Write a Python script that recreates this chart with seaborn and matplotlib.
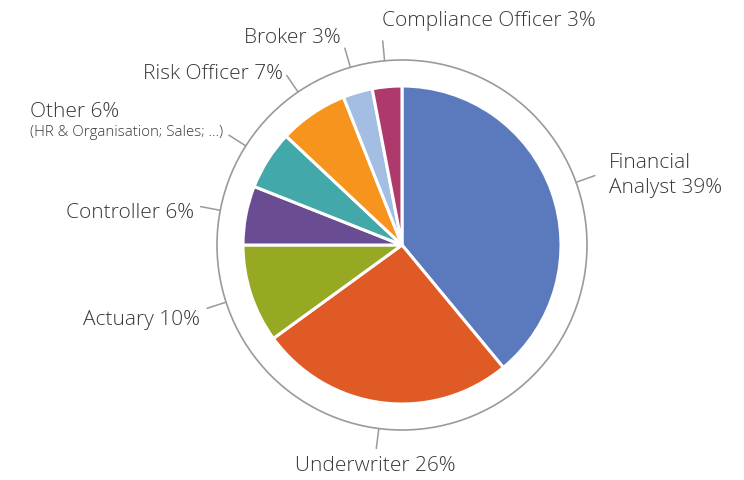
import numpy as np
import matplotlib
matplotlib.use('Agg')
import matplotlib.pyplot as plt
import seaborn as sns

sns.set_theme(style='white')
plt.rcParams['font.family'] = ['Open Sans', 'DejaVu Sans']

# data (clockwise from 12 o'clock)
roles = ['Financial\nAnalyst', 'Underwriter', 'Actuary', 'Controller',
         'Other', 'Risk Officer', 'Broker', 'Compliance Officer']
shares = [39, 26, 10, 6, 6, 7, 3, 3]
colors = ['#5b79bd', '#e05a26', '#97a823', '#6a4c93',
          '#42a8aa', '#f7941d', '#a4bde3', '#ae3a6b']
other_note = '(HR & Organisation; Sales; ...)'

# label layout: radius (px), extra y shift (px), ha, va
layout = [(220, -4, 'left', 'center'), (210, -2, 'center', 'top'),
          (212, -8, 'right', 'center'), (212, -7, 'right', 'center'),
          (212, 0, 'right', 'center'), (212, -3, 'right', 'center'),
          (220, -3, 'right', 'center'), (216, 0, 'left', 'bottom')]

W, H = 744, 481
cx, cy = 402, H - 246
r_pie, r_ring, r_tick = 159, 185, 205
txt_color = '#383838'

fig = plt.figure(figsize=(W / 100, H / 100), dpi=100)
ax = fig.add_axes([0, 0, 1, 1])

ax.pie(shares, colors=colors, startangle=90, counterclock=False,
       radius=r_pie, center=(cx, cy), frame=True,
       wedgeprops=dict(edgecolor='white', linewidth=2.2))
ax.set_xlim(0, W)
ax.set_ylim(0, H)
ax.set_aspect('equal')
ax.axis('off')

ax.add_patch(plt.Circle((cx, cy), r_ring, fill=False,
                        edgecolor='#9a9a9a', linewidth=1.2))

start = 90.0
for role, s, (rl, dy, ha, va) in zip(roles, shares, layout):
    span = s / sum(shares) * 360
    mid = np.deg2rad(start - span / 2)
    start -= span
    c, sn = np.cos(mid), np.sin(mid)
    ax.plot([cx + r_ring * c, cx + r_tick * c], [cy + r_ring * sn, cy + r_tick * sn],
            color='#9a9a9a', linewidth=1.1)
    tx, ty = cx + rl * c, cy + rl * sn + dy
    if role == 'Other':
        sub = ax.text(tx, ty, other_note, ha=ha, va=va, fontsize=10.8,
                      color=txt_color, fontweight='light')
        ax.annotate(f'{role} {s}%', xy=(0, 1), xycoords=sub, xytext=(0, 2),
                    textcoords='offset points', ha='left', va='bottom',
                    fontsize=15, color=txt_color, fontweight='light')
    else:
        ax.text(tx, ty, f'{role} {s}%', ha=ha, va=va, fontsize=15,
                color=txt_color, linespacing=1.35, fontweight='light')

fig.savefig('out.png', dpi=100)
